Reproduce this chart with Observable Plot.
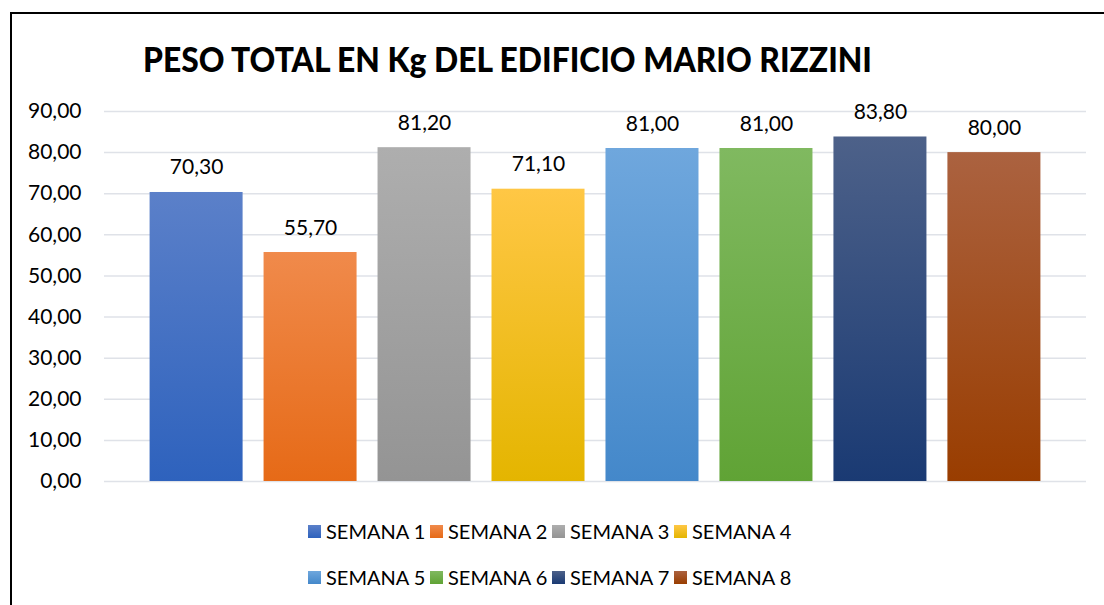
<!DOCTYPE html>
<html>
<head>
<meta charset="utf-8">
<script src="https://cdn.jsdelivr.net/npm/d3@7"></script>
<script src="https://cdn.jsdelivr.net/npm/@observablehq/plot@0.6"></script>
<style>
  html, body { margin: 0; padding: 0; background: #fff; }
  #page { position: relative; width: 1104px; height: 605px; overflow: hidden; background: #fff; font-family: Lato, "Open Sans", sans-serif; }
  #frame { position: absolute; left: 10px; top: 12px; width: 1200px; height: 700px; border-left: 2px solid #000; border-top: 2px solid #000; }
  #title { position: absolute; left: 0; top: 0; }
  #chart { position: absolute; left: 0; top: 90px; }
  .leg { position: absolute; display: flex; align-items: center; font-size: 20px; color: #000; white-space: nowrap; }
  .sw { width: 13px; height: 13px; margin-right: 5px; }
</style>
</head>
<body>
<div id="page">
  <div id="frame"></div>
  <svg id="title" width="1104" height="90">
    <text x="143" y="72" font-family="Lato, 'Open Sans', sans-serif" font-weight="900" font-size="35" textLength="729" lengthAdjust="spacingAndGlyphs" fill="#000">PESO TOTAL EN Kg DEL EDIFICIO MARIO RIZZINI</text>
  </svg>
  <div id="chart"></div>
  <div id="legend"></div>
</div>
<script>
const weeks = ["SEMANA 1","SEMANA 2","SEMANA 3","SEMANA 4","SEMANA 5","SEMANA 6","SEMANA 7","SEMANA 8"];
const values = [70.30, 55.70, 81.20, 71.10, 81.00, 81.00, 83.80, 80.00];
const yTicks = [0,10,20,30,40,50,60,70,80,90];
const topColors = ["#5B80C9","#F08A4B","#AEAEAE","#FFC745","#6FA7DD","#80B960","#4D6189","#AB6240"];
const bottomColors = ["#2E62BD","#E66A17","#949494","#E4B500","#4488CA","#60A335","#1A3A73","#993D00"];

const data = weeks.map((w, i) => ({week: w, value: values[i]}));
const fmt = v => d3.format(".2f")(v).replace(".", ",");
const gradIds = weeks.map((w, i) => `url(#grad${i})`);

const plot = Plot.plot({
  width: 1104,
  height: 410,
  marginLeft: 104,
  marginRight: 18,
  marginTop: 21,
  marginBottom: 19,
  style: {background: "transparent", fontFamily: "Lato, 'Open Sans', sans-serif", fontSize: "21px", color: "#000"},
  x: {domain: weeks, paddingInner: 0.184, paddingOuter: 0.4, round: false, axis: null},
  y: {domain: [0, 90], ticks: yTicks, label: null},
  color: {type: "ordinal", domain: weeks, range: gradIds},
  marks: [
    Plot.gridY(yTicks, {stroke: "#dfe2e8", strokeOpacity: 1, strokeWidth: 1.5}),
    Plot.axisY(yTicks, {tickSize: 0, tickPadding: 23, tickFormat: fmt, fontSize: 21, label: null}),
    Plot.barY(data, {x: "week", y: "value", fill: "week"}),
    Plot.text(data, {x: "week", y: "value", text: d => fmt(d.value), lineAnchor: "bottom", dy: -18, fontSize: 21, fill: "#000"})
  ]
});

const ns = "http://www.w3.org/2000/svg";
const defs = document.createElementNS(ns, "defs");
weeks.forEach((w, i) => {
  const g = document.createElementNS(ns, "linearGradient");
  g.setAttribute("id", `grad${i}`);
  g.setAttribute("x1", "0"); g.setAttribute("y1", "0");
  g.setAttribute("x2", "0"); g.setAttribute("y2", "1");
  const s1 = document.createElementNS(ns, "stop");
  s1.setAttribute("offset", "0"); s1.setAttribute("stop-color", topColors[i]);
  const s2 = document.createElementNS(ns, "stop");
  s2.setAttribute("offset", "1"); s2.setAttribute("stop-color", bottomColors[i]);
  g.appendChild(s1); g.appendChild(s2);
  defs.appendChild(g);
});
plot.insertBefore(defs, plot.firstChild);
document.getElementById("chart").appendChild(plot);

const legend = document.getElementById("legend");
const legX = [308, 430, 552, 674];
const legY = [531, 577];
weeks.forEach((w, i) => {
  const item = document.createElement("div");
  item.className = "leg";
  item.style.left = legX[i % 4] + "px";
  item.style.top = (legY[Math.floor(i / 4)] - 13) + "px";
  item.style.height = "26px";
  const sw = document.createElement("div");
  sw.className = "sw";
  sw.style.background = `linear-gradient(${topColors[i]}, ${bottomColors[i]})`;
  const t = document.createElement("span");
  t.textContent = w;
  item.appendChild(sw); item.appendChild(t);
  legend.appendChild(item);
});
</script>
</body>
</html>
